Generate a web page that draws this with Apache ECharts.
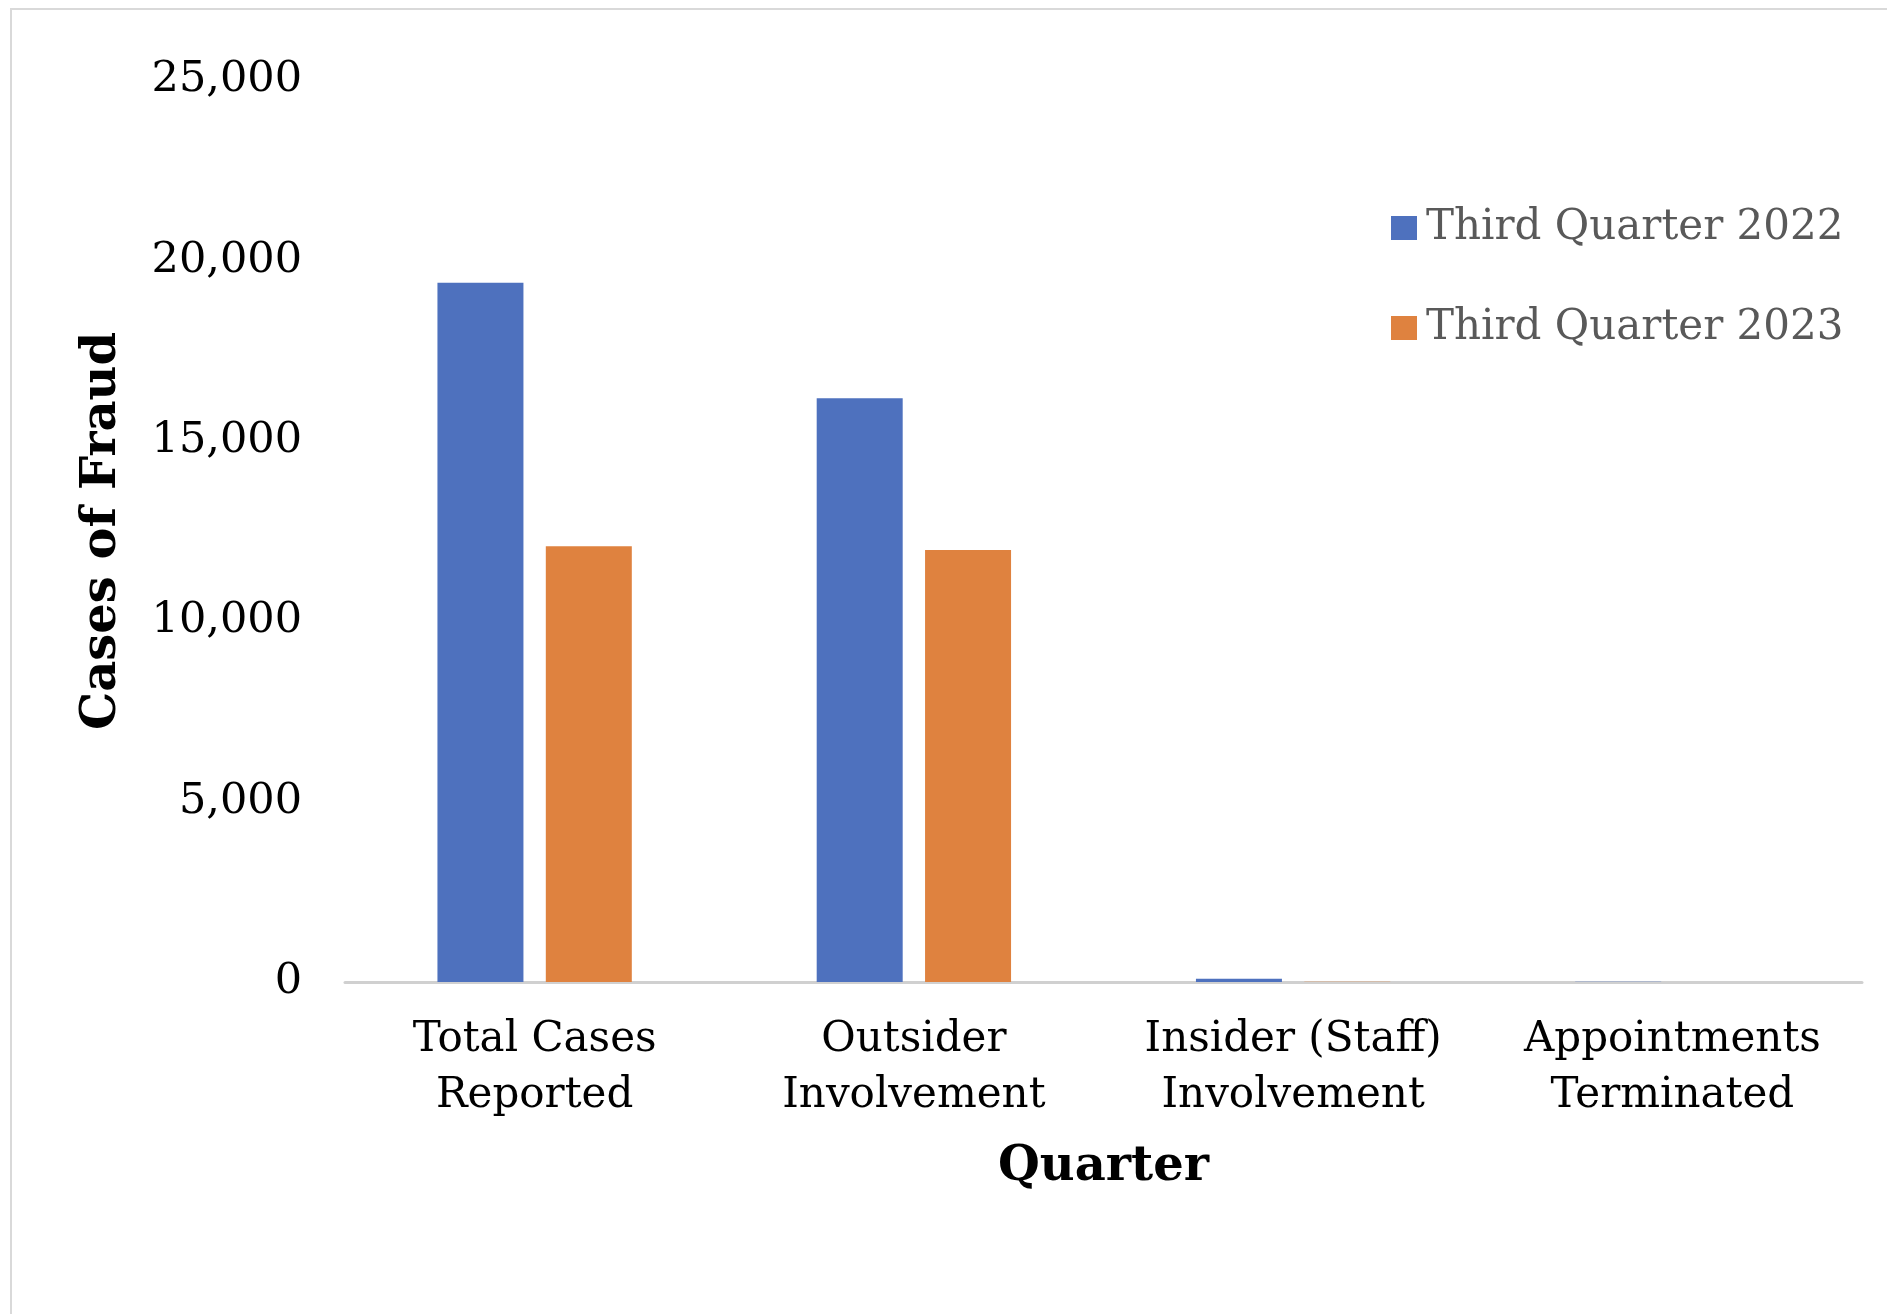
<!DOCTYPE html>
<html>
<head>
<meta charset="utf-8">
<title>Cases of Fraud by Quarter</title>
<script src="https://cdn.jsdelivr.net/npm/echarts@6/dist/echarts.min.js"></script>
<style>
  html, body { margin: 0; padding: 0; background: #ffffff; }
  #chart { width: 1887px; height: 1314px; }
</style>
</head>
<body>
<div id="chart"></div>
<script>
// Fraud case categories (x axis)
const categories = [
  'Total Cases\nReported',
  'Outsider\nInvolvement',
  'Insider (Staff)\nInvolvement',
  'Appointments\nTerminated'
];

// Series names
const seriesNames = ['Third Quarter 2022', 'Third Quarter 2023'];

// Cases per category
const q3_2022 = [19380, 16180, 90, 5];
const q3_2023 = [12080, 11970, 10, 3];

// Value axis ticks
const yMin = 0;
const yMax = 25000;
const yStep = 5000;

const serif = '"DejaVu Serif", "Liberation Serif", serif';
const colors = ['#4E71BE', '#DF823F'];

const chart = echarts.init(document.getElementById('chart'), null, { renderer: 'canvas' });

chart.setOption({
  backgroundColor: '#ffffff',
  animation: false,
  color: colors,
  graphic: [{
    type: 'rect',
    shape: { x: 11, y: 9, width: 1900, height: 1330 },
    style: { fill: 'none', stroke: '#d9d9d9', lineWidth: 2 },
    silent: true
  }],
  grid: { left: 345, right: 25, top: 80, bottom: 332, containLabel: false },
  legend: {
    orient: 'vertical',
    left: 1386,
    top: 202,
    itemWidth: 26,
    itemHeight: 24,
    itemGap: 58,
    icon: 'rect',
    textStyle: {
      fontFamily: serif,
      fontSize: 42,
      color: '#595959',
      padding: [0, 0, 0, 4]
    },
    data: seriesNames
  },
  xAxis: {
    type: 'category',
    data: categories,
    name: 'Quarter',
    nameLocation: 'middle',
    nameGap: 162,
    nameTextStyle: { fontFamily: serif, fontSize: 48, fontWeight: 'bold', color: '#000000' },
    axisLine: { show: true, lineStyle: { color: '#d0d0d0', width: 3 } },
    axisTick: { show: false },
    axisLabel: {
      fontFamily: serif,
      fontSize: 42,
      color: '#000000',
      lineHeight: 56,
      margin: 30,
      interval: 0
    },
    splitLine: { show: false }
  },
  yAxis: {
    type: 'value',
    min: yMin,
    max: yMax,
    interval: yStep,
    name: 'Cases of Fraud',
    nameLocation: 'middle',
    nameGap: 218,
    nameRotate: 90,
    nameTextStyle: { fontFamily: serif, fontSize: 48, fontWeight: 'bold', color: '#000000' },
    axisLine: { show: false },
    axisTick: { show: false },
    splitLine: { show: false },
    axisLabel: {
      fontFamily: serif,
      fontSize: 43,
      color: '#000000',
      margin: 43,
      formatter: (v) => v.toLocaleString('en-US')
    }
  },
  series: [
    {
      name: seriesNames[0],
      type: 'bar',
      data: q3_2022,
      barWidth: 86,
      barGap: '26%',
      itemStyle: { color: colors[0] }
    },
    {
      name: seriesNames[1],
      type: 'bar',
      data: q3_2023,
      barWidth: 86,
      barGap: '26%',
      itemStyle: { color: colors[1] }
    }
  ]
});
</script>
</body>
</html>
